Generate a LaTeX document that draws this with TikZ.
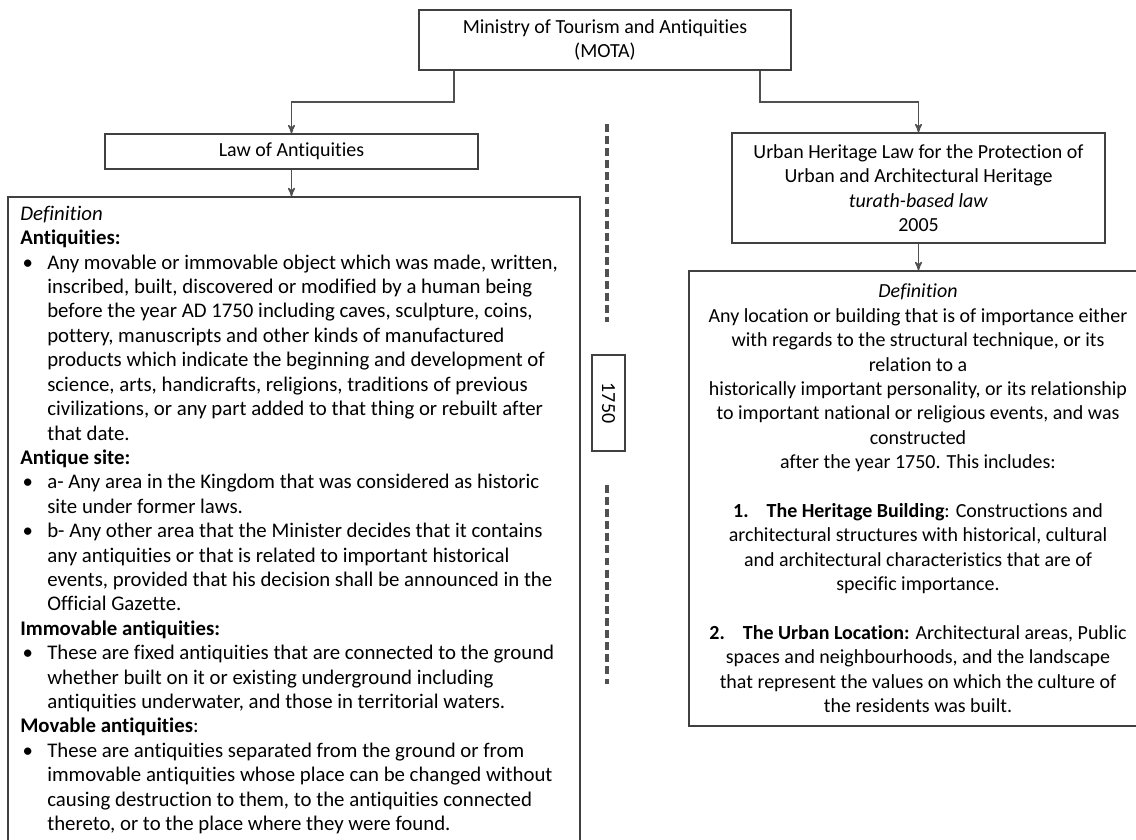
\documentclass[tikz,border=0pt]{standalone}
\usepackage{fontspec}
\setmainfont{Carlito}[Ligatures=NoCommon]
\usepackage{tikz}
\usetikzlibrary{arrows}
\definecolor{boxgray}{HTML}{404040}
\definecolor{linegray}{HTML}{505050}
\newcommand{\litem}{\makebox[0.675cm][l]{\hspace{0.06cm}\textbullet}}
\newcommand{\lcont}{\hspace*{0.675cm}}

\begin{document}
\begin{tikzpicture}[>=stealth',x=0.025cm,y=-0.025cm,
  main node/.style={draw=boxgray,line width=1pt,rectangle,inner sep=0pt,align=center,font=\fontsize{14.2}{17.36}\selectfont},
  text node/.style={inner sep=0pt,align=left,font=\fontsize{14.8}{17.36}\selectfont},
  arrow line/.style={->,draw=linegray,line width=1.1pt},
  dash line/.style={draw=linegray,line width=2.6pt,dash pattern=on 5.6pt off 3pt}]

  \useasboundingbox (0,0) rectangle (1136,840);
  \clip (0,0) rectangle (1136,840);

  \node[main node,minimum width=9.3cm,minimum height=1.5cm] (0) at (605,40) {Ministry of Tourism and Antiquities\\(MOTA)};
  \node[main node,minimum width=9.325cm,minimum height=0.875cm] (1) at (291.5,151.5) {Law of Antiquities};
  \node[main node,minimum width=9.325cm,minimum height=2.75cm] (2) at (918.5,188) {Urban Heritage Law for the Protection of\\Urban and Architectural Heritage\\\textit{turath-based law}\\2005};

  \node[main node,minimum width=14.3cm,minimum height=16.125cm] (3) at (294,519.5) {};
  \node[text node,anchor=west] (4) at (20,520) {\textit{Definition}\\
    \textbf{Antiquities:}\\
    \litem Any movable or immovable object which was made, written,\\
    \lcont inscribed, built, discovered or modified by a human being\\
    \lcont before the year AD 1750 including caves, sculpture, coins,\\
    \lcont pottery, manuscripts and other kinds of manufactured\\
    \lcont products which indicate the beginning and development of\\
    \lcont science, arts, handicrafts, religions, traditions of previous\\
    \lcont civilizations, or any part added to that thing or rebuilt after\\
    \lcont that date.\\
    \textbf{Antique site:}\\
    \litem a- Any area in the Kingdom that was considered as historic\\
    \lcont site under former laws.\\
    \litem b- Any other area that the Minister decides that it contains\\
    \lcont any antiquities or that is related to important historical\\
    \lcont events, provided that his decision shall be announced in the\\
    \lcont Official Gazette.\\
    \textbf{Immovable antiquities:}\\
    \litem These are fixed antiquities that are connected to the ground\\
    \lcont whether built on it or existing underground including\\
    \lcont antiquities underwater, and those in territorial waters.\\
    \textbf{Movable antiquities}:\\
    \litem These are antiquities separated from the ground or from\\
    \lcont immovable antiquities whose place can be changed without\\
    \lcont causing destruction to them, to the antiquities connected\\
    \lcont thereto, or to the place where they were found.};

  \node[main node,minimum width=11.45cm,minimum height=11.375cm] (5) at (918,498.5) {\textit{Definition}\\
    Any location or building that is of importance either\\
    with regards to the structural technique, or its\\
    relation to a\\
    historically important personality, or its relationship\\
    to important national or religious events, and was\\
    constructed\\
    after the year 1750. This includes:\\[\baselineskip]
    \textbf{1.\hspace{0.45cm}The Heritage Building}: Constructions and\\
    architectural structures with historical, cultural\\
    and architectural characteristics that are of\\
    specific importance.\\[\baselineskip]
    \textbf{2.\hspace{0.45cm}The Urban Location:} Architectural areas, Public\\
    spaces and neighbourhoods, and the landscape\\
    that represent the values on which the culture of\\
    the residents was built.};

  \node[main node,rotate=-90,minimum width=2.4cm,minimum height=0.825cm] (6) at (608.5,403) {1750};

  \coordinate (7) at (454,102);
  \coordinate (8) at (760,102);
  \coordinate (9) at (607,124);
  \coordinate (10) at (607,322);
  \coordinate (11) at (607,485);
  \coordinate (12) at (607,684);

  \draw[arrow line] (7 |- 0.south) -- (7) -| (1.north);
  \draw[arrow line] (8 |- 0.south) -- (8) -| (2.north);
  \draw[arrow line] (1.south) -- (1.south |- 3.north);
  \draw[arrow line] (2.south) -- (2.south |- 5.north);

  \draw[dash line] (9) -- (10);
  \draw[dash line] (11) -- (12);
\end{tikzpicture}
\end{document}
